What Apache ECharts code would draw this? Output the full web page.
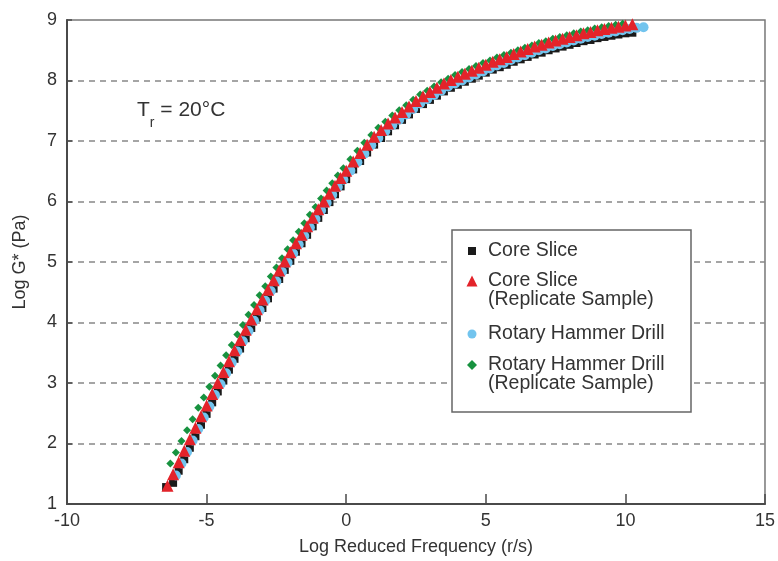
<!DOCTYPE html>
<html><head><meta charset="utf-8">
<script src="https://cdn.jsdelivr.net/npm/echarts@6/dist/echarts.min.js"></script>
<style>html,body{margin:0;padding:0;background:#fff}#c{width:778px;height:561px}</style>
</head><body><div id="c"></div>
<script>
// ---- data ----
const xRange = [-10, 15, 5];
const yRange = [1, 9, 1];

const coreSliceX = [-6.45,-6.2,-6.0,-5.8,-5.6,-5.4,-5.2,-5.0,-4.8,-4.6,-4.4,-4.2,-4.0,-3.8,-3.6,-3.4,-3.2,-3.0,-2.8,-2.6,-2.4,-2.2,-2.0,-1.8,-1.6,-1.4,-1.2,-1.0,-0.8,-0.6,-0.4,-0.2,0.0,0.25,0.5,0.75,1.0,1.25,1.5,1.75,2.0,2.25,2.5,2.75,3.0,3.25,3.5,3.75,4.0,4.25,4.5,4.75,5.0,5.25,5.5,5.75,6.0,6.25,6.5,6.75,7.0,7.25,7.5,7.75,8.0,8.25,8.5,8.75,9.0,9.25,9.5,9.75,10.0,10.25];
const coreSliceY = [1.28,1.35,1.55,1.74,1.93,2.12,2.31,2.49,2.68,2.86,3.04,3.22,3.40,3.57,3.74,3.91,4.08,4.24,4.40,4.56,4.72,4.87,5.02,5.17,5.31,5.45,5.59,5.73,5.86,5.99,6.12,6.25,6.37,6.53,6.67,6.81,6.94,7.05,7.16,7.26,7.35,7.44,7.53,7.61,7.68,7.75,7.82,7.88,7.93,7.98,8.03,8.08,8.13,8.18,8.22,8.26,8.31,8.35,8.39,8.43,8.46,8.50,8.53,8.56,8.59,8.62,8.65,8.67,8.70,8.72,8.74,8.76,8.78,8.79];

const coreRepX = [-6.4,-6.2,-6.0,-5.8,-5.6,-5.4,-5.2,-5.0,-4.8,-4.6,-4.4,-4.2,-4.0,-3.8,-3.6,-3.4,-3.2,-3.0,-2.8,-2.6,-2.4,-2.2,-2.0,-1.8,-1.6,-1.4,-1.2,-1.0,-0.8,-0.6,-0.4,-0.2,0.0,0.25,0.5,0.75,1.0,1.25,1.5,1.75,2.0,2.25,2.5,2.75,3.0,3.25,3.5,3.75,4.0,4.25,4.5,4.75,5.0,5.25,5.5,5.75,6.0,6.25,6.5,6.75,7.0,7.25,7.5,7.75,8.0,8.25,8.5,8.75,9.0,9.25,9.5,9.75,10.0,10.25];
const coreRepY = [1.30,1.49,1.69,1.88,2.07,2.26,2.45,2.63,2.82,3.00,3.18,3.36,3.54,3.71,3.88,4.05,4.22,4.38,4.54,4.70,4.86,5.01,5.16,5.31,5.45,5.59,5.73,5.87,6.00,6.13,6.26,6.39,6.51,6.66,6.80,6.94,7.07,7.18,7.29,7.39,7.48,7.57,7.66,7.74,7.81,7.88,7.95,8.01,8.06,8.11,8.16,8.21,8.26,8.31,8.35,8.39,8.44,8.48,8.52,8.56,8.59,8.63,8.66,8.69,8.72,8.75,8.78,8.80,8.83,8.85,8.87,8.89,8.91,8.93];

const drillX = [-6.1,-5.9,-5.7,-5.5,-5.3,-5.1,-4.9,-4.7,-4.5,-4.3,-4.1,-3.9,-3.7,-3.5,-3.3,-3.1,-2.9,-2.7,-2.5,-2.3,-2.1,-1.9,-1.7,-1.5,-1.3,-1.1,-0.9,-0.7,-0.5,-0.3,-0.1,0.15,0.4,0.65,0.9,1.15,1.4,1.65,1.9,2.15,2.4,2.65,2.9,3.15,3.4,3.65,3.9,4.15,4.4,4.65,4.9,5.15,5.4,5.65,5.9,6.15,6.4,6.65,6.9,7.15,7.4,7.65,7.9,8.15,8.4,8.65,8.9,9.15,9.4,9.65,9.9,10.15,10.4,10.65];
const drillY = [1.47,1.67,1.86,2.05,2.24,2.43,2.61,2.80,2.98,3.16,3.34,3.52,3.69,3.86,4.03,4.20,4.36,4.52,4.68,4.84,4.99,5.14,5.29,5.43,5.57,5.71,5.85,5.98,6.11,6.24,6.36,6.51,6.65,6.79,6.93,7.05,7.16,7.26,7.35,7.44,7.53,7.62,7.69,7.76,7.83,7.90,7.95,8.00,8.05,8.10,8.15,8.20,8.25,8.29,8.34,8.38,8.42,8.46,8.50,8.53,8.57,8.60,8.63,8.66,8.69,8.72,8.74,8.77,8.79,8.81,8.83,8.85,8.87,8.88];

const drillRepX = [-6.3,-6.1,-5.9,-5.7,-5.5,-5.3,-5.1,-4.9,-4.7,-4.5,-4.3,-4.1,-3.9,-3.7,-3.5,-3.3,-3.1,-2.9,-2.7,-2.5,-2.3,-2.1,-1.9,-1.7,-1.5,-1.3,-1.1,-0.9,-0.7,-0.5,-0.3,-0.1,0.15,0.4,0.65,0.9,1.15,1.4,1.65,1.9,2.15,2.4,2.65,2.9,3.15,3.4,3.65,3.9,4.15,4.4,4.65,4.9,5.15,5.4,5.65,5.9,6.15,6.4,6.65,6.9,7.15,7.4,7.65,7.9,8.15,8.4,8.65,8.9,9.15,9.4,9.65,9.9];
const drillRepY = [1.67,1.85,2.04,2.22,2.40,2.59,2.76,2.94,3.12,3.29,3.46,3.63,3.80,3.96,4.13,4.29,4.45,4.60,4.76,4.91,5.06,5.21,5.36,5.50,5.64,5.78,5.91,6.05,6.18,6.30,6.43,6.55,6.70,6.84,6.97,7.10,7.22,7.32,7.42,7.51,7.59,7.68,7.77,7.83,7.90,7.97,8.03,8.09,8.14,8.19,8.24,8.29,8.33,8.38,8.42,8.46,8.50,8.54,8.58,8.62,8.65,8.69,8.72,8.75,8.78,8.81,8.83,8.86,8.88,8.90,8.92,8.94];

const seriesNames = ['Core Slice', 'Core Slice\n(Replicate Sample)', 'Rotary Hammer Drill', 'Rotary Hammer Drill\n(Replicate Sample)'];
const xTitle = 'Log Reduced Frequency (r/s)';
const yTitle = 'Log G* (Pa)';

// ---- chart ----
const FONT = '"Liberation Sans", Arial, Helvetica, sans-serif';
const TXT = '#333';
const zip = (xs, ys) => xs.map((x, i) => [x, ys[i]]);

const chart = echarts.init(document.getElementById('c'), null, {renderer: 'canvas'});

function mkLegend(name, top, size) {
  return {
    data: [name], left: 472 - size / 2, top: top, orient: 'vertical', padding: 0,
    itemWidth: size, itemHeight: size, selectedMode: false,
    formatter: n => n.split('\n')[0],
    textStyle: {fontFamily: FONT, fontSize: 19.5, color: TXT, lineHeight: 20, padding: [0, 0, 0, 11 - size / 2]}
  };
}

const option = {
  animation: false,
  backgroundColor: '#fff',
  grid: {left: 67, right: 10, top: 20, bottom: 55, show: true, borderColor: '#777', borderWidth: 1.5, backgroundColor: 'transparent'},
  title: {
    text: '{a|T}{s|r}{a| = 20°C}', left: 137, top: 100, padding: 0,
    textStyle: {fontWeight: 'normal', rich: {
      a: {fontFamily: FONT, fontSize: 21, fontWeight: 'normal', color: TXT, lineHeight: 24, verticalAlign: 'top'},
      s: {fontFamily: FONT, fontSize: 14, fontWeight: 'normal', color: TXT, lineHeight: 24, verticalAlign: 'bottom', padding: [0, 0, -6, 0]}
    }}
  },
  xAxis: {
    type: 'value', min: xRange[0], max: xRange[1], interval: xRange[2],
    name: xTitle, nameLocation: 'middle', nameGap: 34,
    nameTextStyle: {fontFamily: FONT, fontSize: 18, color: TXT},
    axisLine: {show: true, onZero: false, lineStyle: {color: '#4a4a4a', width: 2}},
    axisTick: {show: true, inside: true, length: 10, lineStyle: {color: '#4a4a4a', width: 1.5}},
    axisLabel: {fontFamily: FONT, fontSize: 18, color: TXT, margin: 8},
    splitLine: {show: false}
  },
  yAxis: {
    type: 'value', min: yRange[0], max: yRange[1], interval: yRange[2],
    name: yTitle, nameLocation: 'middle', nameGap: 38, nameRotate: 90,
    nameTextStyle: {fontFamily: FONT, fontSize: 18, color: TXT},
    axisLine: {show: true, onZero: false, lineStyle: {color: '#4a4a4a', width: 2}},
    axisTick: {show: true, inside: true, length: 5, lineStyle: {color: '#4a4a4a', width: 1.5}},
    axisLabel: {fontFamily: FONT, fontSize: 18, color: TXT, margin: 10},
    splitLine: {show: true, showMinLine: false, showMaxLine: false, lineStyle: {color: '#888', width: 1.5, type: [6, 5]}}
  },
  legend: [
    mkLegend(seriesNames[0], 241, 8),
    mkLegend(seriesNames[1], 271, 11),
    mkLegend(seriesNames[2], 324, 9),
    mkLegend(seriesNames[3], 355, 10)
  ],
  graphic: [
    {type: 'rect', z: 3, shape: {x: 452, y: 230, width: 239, height: 182}, style: {fill: '#fff', stroke: '#666', lineWidth: 1.5}},
    {type: 'text', z: 5, x: 488, y: 300, style: {text: '(Replicate Sample)', fontFamily: FONT, fontSize: 19.5, fill: TXT, verticalAlign: 'middle'}},
    {type: 'text', z: 5, x: 488, y: 384, style: {text: '(Replicate Sample)', fontFamily: FONT, fontSize: 19.5, fill: TXT, verticalAlign: 'middle'}}
  ],
  series: [
    {name: seriesNames[0], type: 'scatter', symbol: 'rect', symbolSize: 8, itemStyle: {color: '#1a1a1a', opacity: 1}, data: zip(coreSliceX, coreSliceY), z: 2},
    {name: seriesNames[2], type: 'scatter', symbol: 'circle', symbolSize: 10, itemStyle: {color: '#72c4ee', opacity: 1}, data: zip(drillX, drillY), z: 2},
    {name: seriesNames[3], type: 'scatter', symbol: 'diamond', symbolSize: 8, itemStyle: {color: '#17923f', opacity: 1}, data: zip(drillRepX, drillRepY), z: 2},
    {name: seriesNames[1], type: 'scatter', symbol: 'triangle', symbolSize: 12, itemStyle: {color: '#e3232a', opacity: 1}, data: zip(coreRepX, coreRepY), z: 2}
  ]
};
chart.setOption(option);
</script>
</body></html>
